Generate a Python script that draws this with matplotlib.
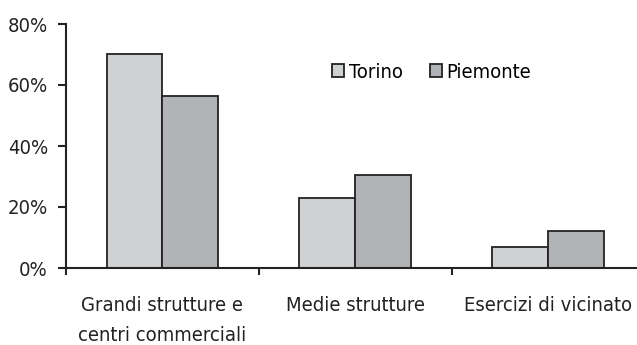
import numpy as np
import matplotlib.pyplot as plt

categories = ["Grandi strutture e\ncentri commerciali", "Medie strutture", "Esercizi di vicinato"]
torino = [70.0, 23.0, 7.0]
piemonte = [56.5, 30.5, 12.0]
series_names = ["Torino", "Piemonte"]
yticks = [0, 20, 40, 60, 80]

plt.rcParams["font.family"] = ["Liberation Sans Narrow", "DejaVu Sans"]
plt.rcParams["font.stretch"] = "condensed"
fs = 14.5

fig = plt.figure(figsize=(6.37, 3.45), dpi=100)
ax = fig.add_axes([66/637, 1-268/345, (636-66)/637, 244/345])

x = np.arange(len(categories))
w = 0.29
ax.bar(x - w/2, torino, w, color="#d0d1d3", edgecolor="#222222", linewidth=1.3, label=series_names[0])
ax.bar(x + w/2, piemonte, w, color="#b2b3b6", edgecolor="#222222", linewidth=1.3, label=series_names[1])

ax.set_yticks(yticks)
ax.set_yticklabels([f"{v}%" for v in yticks], fontsize=fs, color="#222222")
ax.set_xticks([-0.5, 0.5, 1.5, 2.5])
ax.set_xticklabels([])
ax.set_xticks(x, minor=True)
ax.set_xticklabels(categories, minor=True, fontsize=fs, color="#222222", linespacing=1.68)
ax.set_ylim(0, 80)
ax.set_xlim(-0.5, 2.455)
ax.tick_params(axis="x", which="minor", length=0, pad=20.5)
ax.tick_params(axis="x", which="major", length=5, width=1.5, color="#222222", direction="out")
ax.tick_params(axis="y", length=6, width=1.5, color="#222222", pad=7)

for s in ["top", "right"]:
    ax.spines[s].set_visible(False)
for s in ["left", "bottom"]:
    ax.spines[s].set_linewidth(1.5)
    ax.spines[s].set_color("#222222")

ax.legend(loc="upper left", bbox_to_anchor=(0.453, 0.875), ncol=2, frameon=False,
          fontsize=fs, handlelength=0.6, handleheight=0.6, handletextpad=0.25,
          columnspacing=1.3, borderaxespad=0)

fig.savefig("out.png", dpi=100)
